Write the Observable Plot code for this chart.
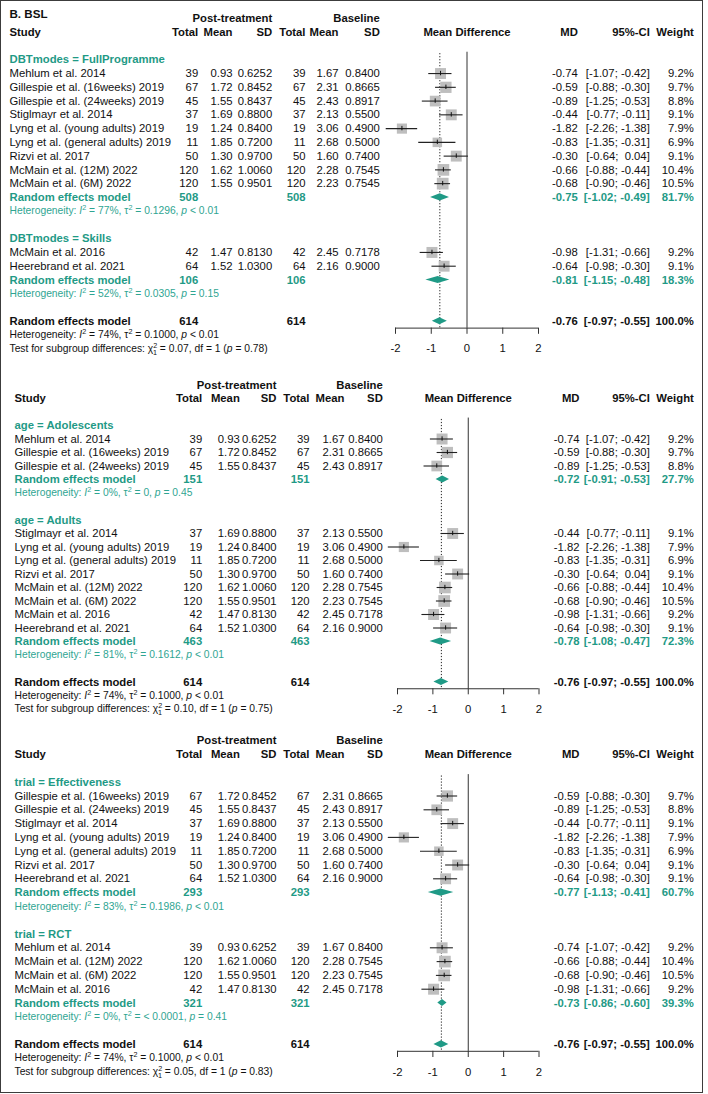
<!DOCTYPE html>
<html><head><meta charset="utf-8">
<script src="https://cdn.jsdelivr.net/npm/d3@7"></script>
<script src="https://cdn.jsdelivr.net/npm/@observablehq/plot@0.6"></script>
<style>
body{margin:0;background:#fff;}
#page{position:relative;width:708px;height:1094px;overflow:hidden;}
#border{position:absolute;left:0;top:0;width:703px;height:1093px;border:1.5px solid #3c3c3c;box-sizing:border-box;}
.panel{position:absolute;left:0;}
</style></head><body><div id="page"><div id="border"></div></div>
<script>
// ---------------- DATA ----------------
const studyNames = ["Mehlum et al. 2014","Gillespie et al. (16weeks) 2019","Gillespie et al. (24weeks) 2019","Stiglmayr et al. 2014","Lyng et al. (young adults) 2019","Lyng et al. (general adults) 2019","Rizvi et al. 2017","McMain et al. (12M) 2022","McMain et al. (6M) 2022","McMain et al. 2016","Heerebrand et al. 2021"];
const postTotal = [39,67,45,37,19,11,50,120,120,42,64];
const postMean = [0.93,1.72,1.55,1.69,1.24,1.85,1.30,1.62,1.55,1.47,1.52];
const postSD = [0.6252,0.8452,0.8437,0.8800,0.8400,0.7200,0.9700,1.0060,0.9501,0.8130,1.0300];
const baseTotal = [39,67,45,37,19,11,50,120,120,42,64];
const baseMean = [1.67,2.31,2.43,2.13,3.06,2.68,1.60,2.28,2.23,2.45,2.16];
const baseSD = [0.8400,0.8665,0.8917,0.5500,0.4900,0.5000,0.7400,0.7545,0.7545,0.7178,0.9000];
const studyMD = [-0.74,-0.59,-0.89,-0.44,-1.82,-0.83,-0.30,-0.66,-0.68,-0.98,-0.64];
const studyLower = [-1.07,-0.88,-1.25,-0.77,-2.26,-1.35,-0.64,-0.88,-0.90,-1.31,-0.98];
const studyUpper = [-0.42,-0.30,-0.53,-0.11,-1.38,-0.31,0.04,-0.44,-0.46,-0.66,-0.30];
const studyWeight = [9.2,9.7,8.8,9.1,7.9,6.9,9.1,10.4,10.5,9.2,9.1];

const panelTitle = "B. BSL";
const panelVariables = ["DBTmodes","age","trial"];
const subgroupLabels = [["FullProgramme","Skills"],["Adolescents","Adults"],["Effectiveness","RCT"]];
const subgroupMembers = [[[0,1,2,3,4,5,6,7,8],[9,10]],[[0,1,2],[3,4,5,6,7,8,9,10]],[[1,2,3,4,5,6,10],[0,7,8,9]]];
const subgroupTotal = [[508,106],[151,463],[293,321]];
const subgroupMD = [[-0.75,-0.81],[-0.72,-0.78],[-0.77,-0.73]];
const subgroupLower = [[-1.02,-1.15],[-0.91,-1.08],[-1.13,-0.86]];
const subgroupUpper = [[-0.49,-0.48],[-0.53,-0.47],[-0.41,-0.60]];
const subgroupWeight = [[81.7,18.3],[27.7,72.3],[60.7,39.3]];
const subgroupI2 = [[77,52],[0,81],[83,0]];
const subgroupTau2 = [["0.1296","0.0305"],["0","0.1612"],["0.1986","< 0.0001"]];
const subgroupP = [["< 0.01","= 0.15"],["= 0.45","< 0.01"],["< 0.01","= 0.41"]];
const overallTotal = 614;
const overallMD = -0.76, overallLower = -0.97, overallUpper = -0.55, overallWeight = 100.0;
const overallI2 = 74, overallTau2 = "0.1000", overallP = "< 0.01";
const testChi2 = ["0.07","0.10","0.05"];
const testDf = [1,1,1];
const testP = ["0.78","0.75","0.83"];
const axisTicks = [-2,-1,0,1,2];

// ---------------- LAYOUT / STYLE ----------------
const FONT = '"Liberation Sans", Arial, sans-serif';
const FS = 11.3, FS_HET = 10.3;
const TEAL = "#1f9a86", TEAL_HET = "#2fa592", INK = "#111";
const colsA = {study:{x:9,a:"start"}, pTot:{x:197.7,a:"end"}, pMean:{x:232,a:"end"}, pSD:{x:271.7,a:"end"}, bTot:{x:305,a:"end"}, bMean:{x:338,a:"end"}, bSD:{x:379.3,a:"end"}, md:{x:577.3,a:"end"}, ci:{x:649.3,a:"end"}, wt:{x:693.3,a:"end"}};
const colsB = {study:{x:14,a:"start"}, pTot:{x:201.7,a:"end"}, pMean:{x:239.3,a:"end"}, pSD:{x:276,a:"end"}, bTot:{x:309,a:"end"}, bMean:{x:344,a:"end"}, bSD:{x:382.3,a:"end"}, md:{x:579,a:"end"}, ci:{x:649.3,a:"end"}, wt:{x:693.3,a:"end"}};
const panelLayout = [
  {top:0,   height:362, y0:59.3,  step:13.76, xRange:[395,538],   cols:colsA},
  {top:362, height:362, y0:425,   step:13.5,  xRange:[397,538.5], cols:colsB},
  {top:724, height:370, y0:781.7, step:13.8,  xRange:[397,538.5], cols:colsB}
];
const AXIS_ROW = 19.5, TICK_LEN = 0.45, LABEL_ROW = 21, DIAMOND_H = 0.26;

const f2 = d => d.toFixed(2);
const ciText = (lo, hi) => `[${f2(lo)}; ${hi >= 0 ? "\u00a0" : ""}${f2(hi)}]`;
const hetText = (i2, t2, p) => `Heterogeneity: *I*^2^ = ${i2}%, τ^2^ = ${t2}, *p* ${p}`;

function buildPanel(p) {
  const cells = [], boxes = [], diamonds = [];
  const cell = (row, col, t, bold, color, size) => cells.push({row, col, t, bold, color, size: size || FS});
  if (p === 0) cell(-3.3, "study", panelTitle, true, INK, 11.6);
  cell(-3, "pSD", "Post-treatment", true, INK);
  cell(-3, "bSD", "Baseline", true, INK);
  cell(-2, "study", "Study", true, INK);
  ["pTot","bTot"].forEach(c => cell(-2, c, "Total", true, INK));
  ["pMean","bMean"].forEach(c => cell(-2, c, "Mean", true, INK));
  ["pSD","bSD"].forEach(c => cell(-2, c, "SD", true, INK));
  cell(-2, "md", "MD", true, INK);
  cell(-2, "ci", "95%-CI", true, INK);
  cell(-2, "wt", "Weight", true, INK);
  let r = 0;
  for (let g = 0; g < 2; g++) {
    cell(r++, "study", `${panelVariables[p]} = ${subgroupLabels[p][g]}`, true, TEAL);
    for (const i of subgroupMembers[p][g]) {
      cell(r, "study", studyNames[i], false, INK);
      cell(r, "pTot", String(postTotal[i]), false, INK);
      cell(r, "pMean", f2(postMean[i]), false, INK);
      cell(r, "pSD", postSD[i].toFixed(4), false, INK);
      cell(r, "bTot", String(baseTotal[i]), false, INK);
      cell(r, "bMean", f2(baseMean[i]), false, INK);
      cell(r, "bSD", baseSD[i].toFixed(4), false, INK);
      cell(r, "md", f2(studyMD[i]), false, INK);
      cell(r, "ci", ciText(studyLower[i], studyUpper[i]), false, INK);
      cell(r, "wt", studyWeight[i].toFixed(1) + "%", false, INK);
      boxes.push({row: r, md: studyMD[i], lo: studyLower[i], hi: studyUpper[i], w: studyWeight[i]});
      r++;
    }
    cell(r, "study", "Random effects model", true, TEAL);
    cell(r, "pTot", String(subgroupTotal[p][g]), true, TEAL);
    cell(r, "bTot", String(subgroupTotal[p][g]), true, TEAL);
    cell(r, "md", f2(subgroupMD[p][g]), true, TEAL);
    cell(r, "ci", ciText(subgroupLower[p][g], subgroupUpper[p][g]), true, TEAL);
    cell(r, "wt", subgroupWeight[p][g].toFixed(1) + "%", true, TEAL);
    diamonds.push({id: "g" + g, row: r, md: subgroupMD[p][g], lo: subgroupLower[p][g], hi: subgroupUpper[p][g]});
    r++;
    cell(r++, "study", hetText(subgroupI2[p][g], subgroupTau2[p][g], subgroupP[p][g]), false, TEAL_HET, FS_HET);
    r++;
  }
  cell(r, "study", "Random effects model", true, INK);
  cell(r, "pTot", String(overallTotal), true, INK);
  cell(r, "bTot", String(overallTotal), true, INK);
  cell(r, "md", f2(overallMD), true, INK);
  cell(r, "ci", ciText(overallLower, overallUpper), true, INK);
  cell(r, "wt", overallWeight.toFixed(1) + "%", true, INK);
  diamonds.push({id: "all", row: r, md: overallMD, lo: overallLower, hi: overallUpper});
  r++;
  cell(r++, "study", hetText(overallI2, overallTau2, overallP), false, INK, FS_HET);
  cell(r++, "study", `Test for subgroup differences: χ^2^~${testDf[p]}~ = ${testChi2[p]}, df = ${testDf[p]} (*p* = ${testP[p]})`, false, INK, FS_HET);
  return {cells, boxes, diamonds};
}

function richify(svg) {
  d3.select(svg).selectAll("text").each(function() {
    const s = this.textContent;
    if (!/[\*\^~]/.test(s)) return;
    const el = d3.select(this); el.text(null);
    const parts = s.split(/(\*[^*]+\*|\^[^^]+\^|~[^~]+~)/).filter(Boolean);
    let shift = 0, prev = "";
    for (const part of parts) {
      let t = part, target = 0, small = false, italic = false, dx = 0;
      if (part[0] === "*") { t = part.slice(1,-1); italic = true; }
      else if (part[0] === "^") { t = part.slice(1,-1); target = -4; small = true; }
      else if (part[0] === "~") { t = part.slice(1,-1); target = 3; small = true; if (prev === "^") dx = -4.3; }
      const ts = el.append("tspan").text(t);
      if (target !== shift) ts.attr("dy", target - shift);
      if (dx) ts.attr("dx", dx);
      if (small) ts.attr("font-size", "0.7em");
      if (italic) ts.attr("font-style", "italic");
      shift = target; prev = part[0];
    }
  });
}

const page = document.getElementById("page");
panelLayout.forEach((L, p) => {
  const {cells, boxes, diamonds} = buildPanel(p);
  const textMarks = d3.groups(cells, c => [c.col, c.bold, c.color, c.size].join("|")).map(([, arr]) => {
    const c0 = arr[0], col = L.cols[c0.col];
    return Plot.text(arr, {y: "row", text: "t", frameAnchor: "left", dx: col.x, textAnchor: col.a,
      fill: c0.color, fontWeight: c0.bold ? "bold" : "normal", fontSize: c0.size});
  });
  const diamondPts = diamonds.flatMap(d => [
    {id: d.id, y: d.row - DIAMOND_H, x1: d.md, x2: d.md},
    {id: d.id, y: d.row, x1: d.lo, x2: d.hi},
    {id: d.id, y: d.row + DIAMOND_H, x1: d.md, x2: d.md}
  ]);
  const svg = Plot.plot({
    width: 708, height: L.height,
    marginLeft: 0, marginRight: 0, marginTop: 0, marginBottom: 0,
    x: {domain: [-2, 2], range: L.xRange, axis: null},
    y: {domain: [0, 21], range: [L.y0 - L.top, L.y0 - L.top + 21 * L.step], axis: null},
    r: {type: "sqrt", domain: [0, 10], range: [0, 6.45]},
    style: {fontFamily: FONT, fontSize: FS + "px", background: "transparent", overflow: "visible", color: INK},
    marks: [
      Plot.ruleX([0], {y1: -0.55, y2: AXIS_ROW, stroke: "#333", strokeWidth: 1}),
      Plot.ruleX([overallMD], {y1: -0.45, y2: AXIS_ROW, stroke: "#222", strokeWidth: 1, strokeDasharray: "1.2,1.8"}),
      Plot.dot(boxes, {x: "md", y: "row", r: "w", symbol: "square", fill: "#bebebe", stroke: "none"}),
      Plot.ruleY(boxes, {y: "row", x1: "lo", x2: "hi", stroke: "#222", strokeWidth: 1.1}),
      Plot.ruleX(boxes, {x: "md", y1: d => d.row - 0.16, y2: d => d.row + 0.16, stroke: "#111", strokeWidth: 1}),
      Plot.areaX(diamondPts, {y: "y", x1: "x1", x2: "x2", z: "id", fill: TEAL, curve: "linear"}),
      Plot.ruleY([AXIS_ROW], {x1: axisTicks[0], x2: axisTicks[axisTicks.length - 1], stroke: "#333", strokeWidth: 1}),
      Plot.ruleX(axisTicks, {x: d => d, y1: AXIS_ROW, y2: AXIS_ROW + TICK_LEN, stroke: "#333", strokeWidth: 1}),
      Plot.text(axisTicks, {x: d => d, y: LABEL_ROW, text: d => String(d), fill: INK, fontSize: FS}),
      Plot.text(["Mean Difference"], {x: 0, y: -2, text: d => d, fill: INK, fontWeight: "bold", fontSize: FS}),
      ...textMarks
    ]
  });
  richify(svg);
  svg.classList.add("panel");
  svg.style.top = L.top + "px";
  page.appendChild(svg);
});
</script>
</body></html>
